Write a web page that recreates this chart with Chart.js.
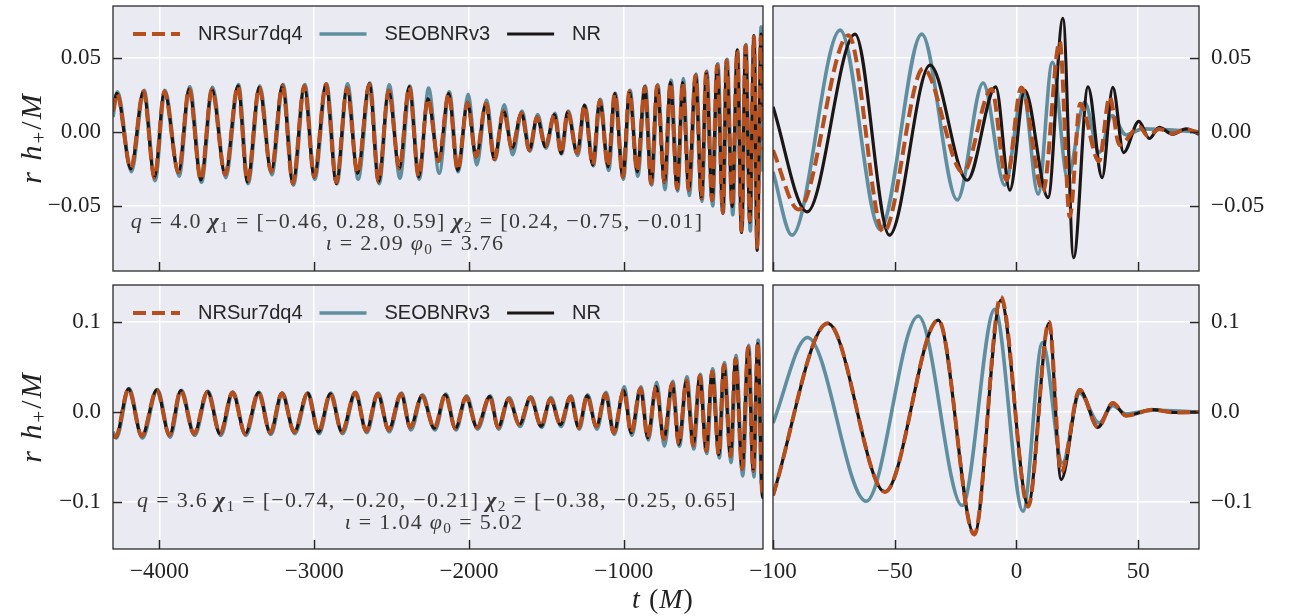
<!DOCTYPE html>
<html>
<head>
<meta charset="utf-8">
<script src="https://cdn.jsdelivr.net/npm/chart.js@4.4.1/dist/chart.umd.min.js"></script>
<style>
  body { margin: 0; background: #fff; }
  #wrap { position: relative; width: 1291px; height: 616px; overflow: hidden; font-family: "Liberation Serif", serif; }
  canvas { position: absolute; }
  .txt { position: absolute; white-space: nowrap; transform: translate(-50%, -50%); z-index: 5; }
  .note { color: #3a3a3a; font-size: 22px; letter-spacing: 1.3px; }
  .lab { color: #222; font-size: 28px; letter-spacing: 1px; }
  .ylab { font-size: 30px; letter-spacing: 2px; transform: translate(-50%, -50%) rotate(-90deg); }
  sub { font-size: 70%; vertical-align: -0.25em; line-height: 0; font-style: normal; }
</style>
</head>
<body>
<div id="wrap">
  <canvas id="tl" width="775" height="280" style="left:0;top:0;width:775px;height:280px"></canvas>
  <canvas id="tr" width="591" height="280" style="left:700px;top:0;width:591px;height:280px"></canvas>
  <canvas id="bl" width="775" height="338" style="left:0;top:278px;width:775px;height:338px"></canvas>
  <canvas id="br" width="591" height="338" style="left:700px;top:278px;width:591px;height:338px"></canvas>

  <div class="txt note" style="left:417px;top:221px"><i>q</i> = 4.0 <b><i>χ</i></b><sub>1</sub> = [−0.46, 0.28, 0.59] <b><i>χ</i></b><sub>2</sub> = [0.24, −0.75, −0.01]</div>
  <div class="txt note" style="left:415px;top:243px"><i>ι</i> = 2.09 <i>φ</i><sub>0</sub> = 3.76</div>
  <div class="txt note" style="left:437px;top:500px"><i>q</i> = 3.6 <b><i>χ</i></b><sub>1</sub> = [−0.74, −0.20, −0.21] <b><i>χ</i></b><sub>2</sub> = [−0.38, −0.25, 0.65]</div>
  <div class="txt note" style="left:434px;top:522px"><i>ι</i> = 1.04 <i>φ</i><sub>0</sub> = 5.02</div>

  <div class="txt lab ylab" style="left:31px;top:138px"><i>r h</i><sub>+</sub>/<i>M</i></div>
  <div class="txt lab ylab" style="left:31px;top:417px"><i>r h</i><sub>+</sub>/<i>M</i></div>
  <div class="txt lab" style="left:663px;top:599px"><i>t</i> (<i>M</i>)</div>
</div>

<script>
// waveform extrema, [t (M), r h+/M]
const topInspNRSur = [[-4300, 0.014], [-4275, 0.0257], [-4185, -0.0245], [-4103, 0.0273], [-4032, -0.0308], [-3968, 0.0273], [-3877, -0.0272], [-3808, 0.029], [-3732, -0.0324], [-3661, 0.0286], [-3575, -0.0288], [-3493, 0.0309], [-3431, -0.0335], [-3355, 0.030], [-3278, -0.0268], [-3205, 0.031], [-3138, -0.0347], [-3064, 0.031], [-3000, -0.0302], [-2924, 0.032], [-2857, -0.034], [-2788, 0.0295], [-2720, -0.0279], [-2644, 0.032], [-2584, -0.0335], [-2519, 0.028], [-2450, -0.0245], [-2386, 0.0302], [-2325, -0.0302], [-2265, 0.0223], [-2196, -0.0196], [-2131, 0.0257], [-2073, -0.0257], [-2009, 0.0196], [-1954, -0.0166], [-1890, 0.0189], [-1836, -0.0184], [-1776, 0.0138], [-1722, -0.011], [-1661, 0.0126], [-1610, -0.0122], [-1560, 0.0099], [-1506, -0.0099], [-1448, 0.0115], [-1405, -0.0144], [-1362, 0.0133], [-1301, -0.0144], [-1254, 0.0178], [-1200, -0.0223], [-1155, 0.0212], [-1101, -0.0234], [-1058, 0.0257], [-1006, -0.0302], [-963, 0.0273], [-913, -0.0268], [-864, 0.0302], [-823, -0.0347], [-784, 0.0309], [-737, -0.0336], [-698, 0.0331], [-655, -0.0381], [-619, 0.033], [-580, -0.039], [-536, 0.038], [-498, -0.0448], [-467, 0.040], [-429, -0.046], [-396, 0.0448], [-360, -0.0543], [-336, 0.048], [-299, -0.050], [-267, 0.055], [-239, -0.0669], [-213, 0.058], [-185, -0.060], [-159, 0.064], [-138, -0.078], [-114, 0.064], [-100, -0.012]];
const topInspNR = [[-4300, 0.014], [-4275, 0.026], [-4185, -0.025], [-4103, 0.0275], [-4032, -0.031], [-3968, 0.0275], [-3877, -0.0275], [-3808, 0.029], [-3732, -0.0325], [-3661, 0.0288], [-3575, -0.029], [-3493, 0.031], [-3431, -0.0338], [-3355, 0.030], [-3278, -0.027], [-3205, 0.0315], [-3138, -0.035], [-3064, 0.031], [-3000, -0.0305], [-2924, 0.0322], [-2857, -0.035], [-2788, 0.0297], [-2720, -0.028], [-2644, 0.0325], [-2584, -0.0338], [-2519, 0.028], [-2450, -0.025], [-2386, 0.0305], [-2325, -0.0305], [-2265, 0.0225], [-2196, -0.020], [-2131, 0.026], [-2073, -0.026], [-2009, 0.020], [-1954, -0.017], [-1890, 0.019], [-1836, -0.0186], [-1776, 0.014], [-1722, -0.0112], [-1661, 0.0128], [-1610, -0.0124], [-1560, 0.010], [-1506, -0.010], [-1448, 0.0117], [-1405, -0.0146], [-1362, 0.0135], [-1301, -0.0146], [-1254, 0.018], [-1200, -0.0225], [-1155, 0.0214], [-1101, -0.0236], [-1058, 0.026], [-1006, -0.0305], [-963, 0.0275], [-913, -0.027], [-864, 0.0305], [-823, -0.035], [-784, 0.031], [-737, -0.034], [-698, 0.0333], [-655, -0.0385], [-619, 0.0333], [-580, -0.0393], [-536, 0.0383], [-498, -0.0452], [-467, 0.0403], [-429, -0.0463], [-396, 0.045], [-360, -0.055], [-336, 0.0483], [-299, -0.0505], [-267, 0.0553], [-239, -0.068], [-213, 0.0583], [-185, -0.061], [-159, 0.065], [-138, -0.080], [-112, 0.066], [-100, 0.017]];
const topInspSEOB = [[-4300, 0.010], [-4271, 0.027], [-4181, -0.027], [-4099, 0.028], [-4028, -0.033], [-3964, 0.028], [-3873, -0.030], [-3804, 0.0305], [-3728, -0.034], [-3657, 0.030], [-3571, -0.031], [-3489, 0.032], [-3427, -0.035], [-3351, 0.031], [-3274, -0.029], [-3201, 0.032], [-3134, -0.036], [-3060, 0.032], [-2996, -0.032], [-2920, 0.0325], [-2853, -0.035], [-2784, 0.0324], [-2716, -0.032], [-2640, 0.033], [-2580, -0.035], [-2515, 0.0318], [-2446, -0.0313], [-2382, 0.031], [-2321, -0.032], [-2261, 0.0295], [-2192, -0.028], [-2127, 0.027], [-2069, -0.027], [-2005, 0.0253], [-1950, -0.0223], [-1886, 0.0215], [-1832, -0.019], [-1772, 0.0182], [-1718, -0.0155], [-1657, 0.014], [-1606, -0.013], [-1556, 0.0117], [-1502, -0.011], [-1444, 0.0125], [-1401, -0.015], [-1358, 0.014], [-1297, -0.016], [-1250, 0.018], [-1196, -0.023], [-1151, 0.022], [-1097, -0.026], [-1054, 0.026], [-1002, -0.032], [-959, 0.028], [-909, -0.030], [-860, 0.031], [-819, -0.036], [-780, 0.032], [-733, -0.039], [-694, 0.035], [-651, -0.040], [-615, 0.036], [-576, -0.043], [-532, 0.039], [-494, -0.047], [-463, 0.041], [-425, -0.050], [-392, 0.046], [-356, -0.054], [-332, 0.049], [-295, -0.056], [-264, 0.055], [-235, -0.064], [-210, 0.059], [-182, -0.067], [-157, 0.062], [-136, -0.072], [-112, 0.071], [-100, -0.027]];

const topMergNRSur = [[-100, -0.0124], [-89.5, -0.0525], [-69, 0.0653], [-54.6, -0.0676], [-38.3, 0.0428], [-21.9, -0.0275], [-10.2, 0.029], [-4.1, -0.0327], [2.0, 0.030], [10.9, -0.0405], [17.8, 0.061], [21.9, -0.0574], [26.2, 0.019], [33.9, -0.020], [38.3, 0.0236], [42.3, -0.009], [50.5, 0.0034], [54, -0.003], [58.7, 0.002], [64, -0.0011], [69.7, 0.0016], [75, -0.0007]];
const topMergNR = [[-100, 0.0169], [-86, -0.054], [-66.3, 0.066], [-52.2, -0.0698], [-35.5, 0.045], [-20.2, -0.0327], [-8.5, 0.0304], [-2.7, -0.0394], [3.4, 0.028], [13, -0.0444], [19.1, 0.0766], [23.5, -0.085], [29.4, 0.0304], [35.2, -0.031], [39.6, 0.030], [44, -0.014], [50.3, 0.007], [54.6, -0.0045], [58.7, 0.003], [64, -0.0016], [69.7, 0.002], [75, -0.0016]];
const topMergSEOB = [[-100, -0.027], [-92.2, -0.0698], [-72.4, 0.0687], [-56, -0.066], [-38.9, 0.066], [-24.3, -0.046], [-13.7, 0.033], [-4.8, -0.036], [2.7, 0.027], [8.9, -0.042], [14.8, 0.047], [21, -0.031], [28, 0.020], [34, -0.014], [39.3, 0.011], [45, -0.002], [52, 0.002], [75, 0.0]];

const botInspNRSur = [[-4300, -0.026], [-4283, -0.0277], [-4200, 0.0255], [-4114, -0.0266], [-4017, 0.0244], [-3935, -0.0255], [-3862, 0.0236], [-3776, -0.024], [-3690, 0.0225], [-3608, -0.024], [-3528, 0.0218], [-3446, -0.024], [-3360, 0.0214], [-3284, -0.023], [-3209, 0.0207], [-3129, -0.022], [-3043, 0.0207], [-2972, -0.022], [-2896, 0.020], [-2821, -0.0218], [-2735, 0.0214], [-2664, -0.021], [-2590, 0.020], [-2519, -0.0196], [-2439, 0.020], [-2379, -0.017], [-2304, 0.0177], [-2224, -0.0177], [-2153, 0.019], [-2088, -0.0181], [-2019, 0.0163], [-1948, -0.017], [-1866, 0.017], [-1812, -0.017], [-1744, 0.0144], [-1674, -0.0137], [-1603, 0.016], [-1534, -0.0155], [-1474, 0.0144], [-1409, -0.0137], [-1345, 0.017], [-1291, -0.0173], [-1237, 0.0177], [-1177, -0.016], [-1118, 0.020], [-1065, -0.0229], [-1000, 0.0236], [-952, -0.023], [-892, 0.026], [-845, -0.0284], [-791, 0.028], [-741, -0.030], [-687, 0.0317], [-644, -0.0358], [-595, 0.035], [-551, -0.037], [-509, 0.040], [-467, -0.043], [-429, 0.0447], [-386, -0.047], [-353, 0.052], [-310, -0.049], [-278, 0.059], [-235, -0.063], [-196, 0.0716], [-163, -0.065], [-134, 0.077], [-103, -0.094], [-100, -0.0926]];
const botInspNR = [[-4300, -0.026], [-4283, -0.028], [-4200, 0.0257], [-4114, -0.0268], [-4017, 0.0246], [-3935, -0.0257], [-3862, 0.0238], [-3776, -0.0242], [-3690, 0.0227], [-3608, -0.0242], [-3528, 0.022], [-3446, -0.0242], [-3360, 0.0216], [-3284, -0.0232], [-3209, 0.0209], [-3129, -0.0222], [-3043, 0.0209], [-2972, -0.0222], [-2896, 0.0202], [-2821, -0.022], [-2735, 0.0216], [-2664, -0.0212], [-2590, 0.0202], [-2519, -0.0198], [-2439, 0.0202], [-2379, -0.0172], [-2304, 0.0179], [-2224, -0.0179], [-2153, 0.0192], [-2088, -0.0183], [-2019, 0.0165], [-1948, -0.0172], [-1866, 0.0172], [-1812, -0.0172], [-1744, 0.0146], [-1674, -0.0139], [-1603, 0.0162], [-1534, -0.0157], [-1474, 0.0146], [-1409, -0.0139], [-1345, 0.0172], [-1291, -0.0175], [-1237, 0.0179], [-1177, -0.0162], [-1118, 0.0202], [-1065, -0.0231], [-1000, 0.0238], [-952, -0.0232], [-892, 0.0262], [-845, -0.0286], [-791, 0.0282], [-741, -0.0302], [-687, 0.032], [-644, -0.036], [-595, 0.0352], [-551, -0.0372], [-509, 0.0402], [-467, -0.0432], [-429, 0.045], [-386, -0.0472], [-353, 0.0522], [-310, -0.0492], [-278, 0.0592], [-235, -0.0632], [-196, 0.072], [-163, -0.0655], [-134, 0.076], [-103, -0.095], [-100, -0.0926]];
const botInspSEOB = [[-4300, -0.022], [-4279, -0.029], [-4196, 0.026], [-4110, -0.029], [-4013, 0.025], [-3931, -0.028], [-3858, 0.024], [-3772, -0.026], [-3686, 0.023], [-3604, -0.026], [-3524, 0.022], [-3442, -0.026], [-3356, 0.022], [-3280, -0.025], [-3205, 0.021], [-3125, -0.024], [-3039, 0.021], [-2968, -0.024], [-2892, 0.021], [-2817, -0.024], [-2731, 0.022], [-2660, -0.023], [-2586, 0.021], [-2515, -0.022], [-2435, 0.021], [-2375, -0.020], [-2300, 0.019], [-2220, -0.020], [-2149, 0.020], [-2084, -0.020], [-2015, 0.018], [-1944, -0.019], [-1862, 0.018], [-1808, -0.019], [-1740, 0.016], [-1670, -0.016], [-1599, 0.017], [-1530, -0.017], [-1470, 0.016], [-1405, -0.016], [-1341, 0.018], [-1287, -0.019], [-1233, 0.019], [-1173, -0.019], [-1114, 0.022], [-1061, -0.025], [-996, 0.028], [-948, -0.026], [-888, 0.028], [-841, -0.031], [-787, 0.033], [-737, -0.038], [-683, 0.034], [-640, -0.038], [-591, 0.039], [-547, -0.041], [-505, 0.042], [-463, -0.046], [-425, 0.048], [-382, -0.051], [-349, 0.055], [-306, -0.056], [-274, 0.063], [-231, -0.071], [-192, 0.074], [-159, -0.072], [-131, 0.080], [-110, -0.080], [-100, -0.0122]];

const botMergNRSur = [[-100, -0.0926], [-77.5, 0.0985], [-54, -0.0886], [-32.1, 0.102], [-17.3, -0.136], [-6.4, 0.128], [4.8, -0.105], [13.4, 0.100], [18.4, -0.067], [26, 0.0247], [33.5, -0.017], [39.6, 0.010], [45, -0.004], [56, 0.0026], [65, -0.0005], [75, 0.0]];
const botMergNR = [[-100, -0.0926], [-77.5, 0.0985], [-54, -0.0886], [-32.1, 0.102], [-17.3, -0.136], [-6.4, 0.124], [4.8, -0.1026], [13.4, 0.0985], [18.4, -0.075], [26, 0.0247], [33.5, -0.017], [39.6, 0.010], [45, -0.004], [56, 0.0026], [65, -0.0005], [75, 0.0]];
const botMergSEOB = [[-100, -0.0122], [-85.8, 0.0827], [-61.7, -0.099], [-40.3, 0.1066], [-22.3, -0.1037], [-8.9, 0.114], [2.7, -0.11], [10.7, 0.077], [18.9, -0.0565], [26, 0.021], [33.9, -0.012], [39.6, 0.007], [45, -0.002], [56, 0.002], [75, 0.0]];

const seriesNames = ["NRSur7dq4", "SEOBNRv3", "NR"];
const inspTicks = [-4000, -3000, -2000, -1000];
const mergTicks = [-100, -50, 0, 50];
const topYTicks = [-0.05, 0, 0.05];
const botYTicks = [-0.1, 0, 0.1];

const ORANGE = "#b5501e", BLUE = "#5f8e9e", BLACK = "#1c1717";
const BG = "#eaeaf2";

function minus(s) { return s.replace("-", "\u2212"); }
function pts(arr) { return arr.map(p => ({ x: p[0], y: p[1] })); }

const panelPlugin = {
  id: "panel",
  beforeDraw(chart) {
    const a = chart.chartArea, ctx = chart.ctx;
    ctx.save();
    ctx.fillStyle = BG;
    ctx.fillRect(a.left, a.top, a.right - a.left, a.bottom - a.top);
    ctx.restore();
  },
  afterDraw(chart, args, opts) {
    const a = chart.chartArea, ctx = chart.ctx;
    const xs = chart.scales.x, ys = chart.scales.y;
    ctx.save();
    // inward tick marks
    ctx.strokeStyle = "#262626";
    ctx.lineWidth = 1.5;
    ctx.beginPath();
    xs.ticks.forEach(t => {
      const px = Math.round(xs.getPixelForValue(t.value)) + 0.5;
      ctx.moveTo(px, a.bottom); ctx.lineTo(px, a.bottom - 9);
    });
    ys.ticks.forEach(t => {
      const py = Math.round(ys.getPixelForValue(t.value)) + 0.5;
      if (opts.right) { ctx.moveTo(a.right, py); ctx.lineTo(a.right - 9, py); }
      else { ctx.moveTo(a.left, py); ctx.lineTo(a.left + 9, py); }
    });
    ctx.stroke();
    // frame
    ctx.strokeStyle = "#2a2a2a";
    ctx.lineWidth = 1.3;
    ctx.strokeRect(a.left, a.top, a.right - a.left, a.bottom - a.top);
    // legend
    if (opts.legend) {
      const ds = chart.data.datasets;
      const order = [0, 2, 1];
      let x = a.left + 20;
      const y = a.top + 28;
      ctx.font = "20px 'Liberation Sans', Arial, sans-serif";
      ctx.textBaseline = "middle";
      order.forEach(i => {
        const d = ds[i];
        ctx.strokeStyle = d.borderColor;
        ctx.lineWidth = d.borderWidth;
        ctx.setLineDash(d.borderDash || []);
        ctx.lineCap = "butt";
        ctx.beginPath(); ctx.moveTo(x, y); ctx.lineTo(x + 47, y); ctx.stroke();
        ctx.setLineDash([]);
        ctx.fillStyle = "#262626";
        ctx.fillText(d.label, x + 65, y);
        x += 65 + ctx.measureText(d.label).width + 17;
      });
    }
    ctx.restore();
  }
};

function makePanel(id, cfg) {
  const tickFont = { family: "'Liberation Serif', serif", size: 23 };
  return new Chart(document.getElementById(id), {
    type: "line",
    data: {
      datasets: [
        { label: seriesNames[0], data: pts(cfg.nrsur), borderColor: ORANGE, borderWidth: 4, borderDash: [13, 6] },
        { label: seriesNames[2], data: pts(cfg.nr), borderColor: BLACK, borderWidth: 3.2 },
        { label: seriesNames[1], data: pts(cfg.seob), borderColor: BLUE, borderWidth: 3.6 }
      ].map(d => Object.assign(d, { pointRadius: 0, fill: false, cubicInterpolationMode: "monotone", clip: 0 }))
    },
    options: {
      responsive: false,
      animation: false,
      events: [],
      layout: { padding: cfg.padding },
      plugins: { legend: { display: false }, tooltip: { enabled: false }, panel: { right: cfg.right, legend: cfg.legend } },
      scales: {
        x: {
          type: "linear", position: "bottom", min: cfg.xmin, max: cfg.xmax,
          afterBuildTicks: s => { s.ticks = cfg.xticks.map(v => ({ value: v })); },
          afterFit: s => { s.height = cfg.xh; s.paddingLeft = 0; s.paddingRight = 0; },
          ticks: { display: cfg.xlabels, autoSkip: false, maxRotation: 0, padding: 9, color: "#222", font: tickFont, callback: v => minus(String(v)) },
          grid: { color: "#fff", lineWidth: 1.5, drawTicks: false },
          border: { display: false }
        },
        y: {
          type: "linear", position: cfg.right ? "right" : "left", min: cfg.ymin, max: cfg.ymax,
          afterBuildTicks: s => { s.ticks = cfg.yticks.map(v => ({ value: v })); },
          afterFit: s => { s.width = cfg.yw; s.paddingTop = 0; s.paddingBottom = 0; },
          ticks: { padding: 12, color: "#222", font: tickFont, callback: v => minus(v.toFixed(cfg.dec)) },
          grid: { color: "#fff", lineWidth: 1.5, drawTicks: false },
          border: { display: false }
        }
      }
    },
    plugins: [panelPlugin]
  });
}

makePanel("tl", { nrsur: topInspNRSur, nr: topInspNR, seob: topInspSEOB, xmin: -4300, xmax: -100, ymin: -0.094, ymax: 0.085,
  xticks: inspTicks, yticks: topYTicks, dec: 2, xlabels: false, xh: 9, yw: 113, right: false, legend: true,
  padding: { top: 6, right: 12, left: 0, bottom: 0 } });
makePanel("tr", { nrsur: topMergNRSur, nr: topMergNR, seob: topMergSEOB, xmin: -100, xmax: 75, ymin: -0.094, ymax: 0.085,
  xticks: mergTicks, yticks: topYTicks, dec: 2, xlabels: false, xh: 9, yw: 92, right: true, legend: false,
  padding: { top: 6, right: 0, left: 73, bottom: 0 } });
makePanel("bl", { nrsur: botInspNRSur, nr: botInspNR, seob: botInspSEOB, xmin: -4300, xmax: -100, ymin: -0.152, ymax: 0.141,
  xticks: inspTicks, yticks: botYTicks, dec: 1, xlabels: true, xh: 67, yw: 113, right: false, legend: true,
  padding: { top: 7, right: 12, left: 0, bottom: 0 } });
makePanel("br", { nrsur: botMergNRSur, nr: botMergNR, seob: botMergSEOB, xmin: -100, xmax: 75, ymin: -0.152, ymax: 0.141,
  xticks: mergTicks, yticks: botYTicks, dec: 1, xlabels: true, xh: 67, yw: 92, right: true, legend: false,
  padding: { top: 7, right: 0, left: 73, bottom: 0 } });
</script>
</body>
</html>
